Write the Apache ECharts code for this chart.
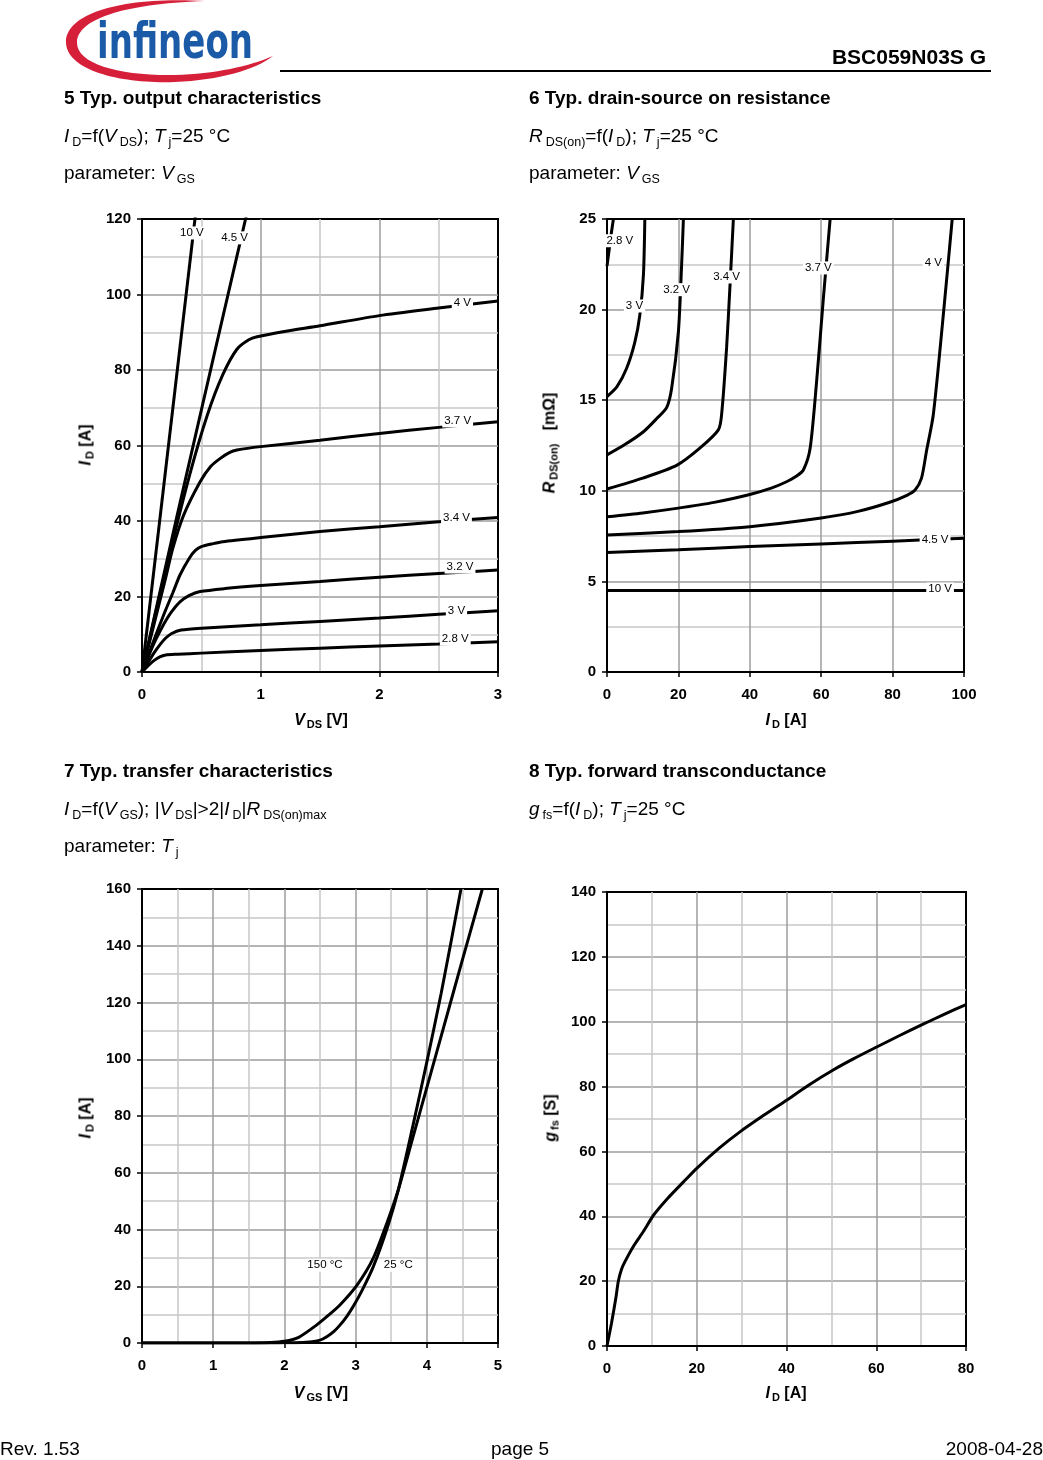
<!DOCTYPE html>
<html><head><meta charset="utf-8">
<script src="https://cdn.jsdelivr.net/npm/echarts@6/dist/echarts.min.js"></script>
<style>
html,body{margin:0;padding:0;background:#fff;}
body{width:1043px;height:1460px;position:relative;overflow:hidden;font-family:'Liberation Sans',Arial,sans-serif;color:#000;}
#chart{position:absolute;left:0;top:0;width:1043px;height:1460px;z-index:1;}
.t{position:absolute;white-space:nowrap;font-size:19px;line-height:22px;z-index:2;}
.b{font-weight:bold;}
.s{font-size:12.5px;position:relative;top:4px;margin-left:3px;}
.ax{position:absolute;white-space:nowrap;font-size:16px;font-weight:bold;line-height:18px;transform:translate(-50%,-50%);z-index:2;}
.ax .s{font-size:11px;top:3px;margin-left:2px;}
.ax.rot{transform:translate(-50%,-50%) rotate(-90deg);}
#logo{position:absolute;left:0;top:0;z-index:2;}
#hline{position:absolute;left:280px;top:70px;width:711px;height:2px;background:#000;z-index:2;}
</style></head>
<body>
<svg id="logo" width="300" height="90" viewBox="0 0 300 90">
  <path d="M205,1 C120,-4 66,14 66,42 C66,70 120,84 175,82 C220,80 255,70 273,56 C250,66 215,74 175,75 C120,76 76,64 77,42 C78,20 120,4 205,1 Z" fill="#d6203a"/>
  <text x="97" y="58" font-family="DejaVu Sans, Liberation Sans, sans-serif" font-weight="bold" font-size="49" fill="#1b5aa6" textLength="156" lengthAdjust="spacingAndGlyphs">infineon</text>
</svg>
<div class="t b" style="right:57px;top:46px;font-size:21px;">BSC059N03S G</div>
<div id="hline"></div>

<div class="t b" style="left:64px;top:87px;">5 Typ. output characteristics</div>
<div class="t" style="left:64px;top:125px;"><i>I</i><span class="s">D</span>=f(<i>V</i><span class="s">DS</span>); <i>T</i><span class="s">j</span>=25 °C</div>
<div class="t" style="left:64px;top:162px;">parameter: <i>V</i><span class="s">GS</span></div>

<div class="t b" style="left:529px;top:87px;">6 Typ. drain-source on resistance</div>
<div class="t" style="left:529px;top:125px;"><i>R</i><span class="s">DS(on)</span>=f(<i>I</i><span class="s">D</span>); <i>T</i><span class="s">j</span>=25 °C</div>
<div class="t" style="left:529px;top:162px;">parameter: <i>V</i><span class="s">GS</span></div>

<div class="t b" style="left:64px;top:760px;">7 Typ. transfer characteristics</div>
<div class="t" style="left:64px;top:798px;"><i>I</i><span class="s">D</span>=f(<i>V</i><span class="s">GS</span>); |<i>V</i><span class="s">DS</span>|&gt;2|<i>I</i><span class="s">D</span>|<i>R</i><span class="s">DS(on)max</span></div>
<div class="t" style="left:64px;top:835px;">parameter: <i>T</i><span class="s">j</span></div>

<div class="t b" style="left:529px;top:760px;">8 Typ. forward transconductance</div>
<div class="t" style="left:529px;top:798px;"><i>g</i><span class="s">fs</span>=f(<i>I</i><span class="s">D</span>); <i>T</i><span class="s">j</span>=25 °C</div>

<div class="ax" style="left:321px;top:720px;"><i>V</i><span class="s">DS</span> [V]</div>
<div class="ax rot" style="left:86px;top:445px;"><i>I</i><span class="s">D</span> [A]</div>
<div class="ax" style="left:786px;top:720px;"><i>I</i><span class="s">D</span> [A]</div>
<div class="ax rot" style="left:550px;top:443px;"><i>R</i><span class="s">DS(on)</span>&nbsp;&nbsp;&nbsp;[mΩ]</div>
<div class="ax" style="left:321px;top:1393px;"><i>V</i><span class="s">GS</span> [V]</div>
<div class="ax rot" style="left:86px;top:1118px;"><i>I</i><span class="s">D</span> [A]</div>
<div class="ax" style="left:786px;top:1393px;"><i>I</i><span class="s">D</span> [A]</div>
<div class="ax rot" style="left:551px;top:1118px;"><i>g</i><span class="s">fs</span> [S]</div>

<div class="t" style="left:0px;top:1438px;">Rev. 1.53</div>
<div class="t" style="left:491px;top:1438px;">page 5</div>
<div class="t" style="right:0px;top:1438px;">2008-04-28</div>

<div id="chart"></div>
<script>
// ---------- Chart 5: output characteristics, I_D vs V_DS, parameter V_GS ----------
const out28 = [[0,0],[0.05,1.6],[0.1,3.0],[0.15,4.0],[0.2,4.5],[0.3,4.7],[0.5,5.0],[1,5.7],[1.5,6.3],[2,6.9],[2.5,7.4],[3,8.0]];
const out30 = [[0,0],[0.05,2.5],[0.1,5.0],[0.15,7.2],[0.2,9.0],[0.25,10.2],[0.33,11.1],[0.5,11.6],[1,12.5],[1.5,13.4],[2,14.3],[2.5,15.3],[3,16.2]];
const out32 = [[0,0],[0.05,3.8],[0.1,7.5],[0.15,10.7],[0.2,13.6],[0.25,16],[0.32,18.6],[0.4,20.3],[0.49,21.3],[0.7,22.1],[1,22.9],[1.5,24],[2,25.1],[2.5,26.1],[3,27.0]];
const out34 = [[0,0],[0.05,4.2],[0.1,8.4],[0.15,12.5],[0.2,16.5],[0.26,21],[0.32,25.7],[0.4,30.2],[0.45,32.2],[0.5,33.2],[0.6,34],[0.68,34.5],[1,35.6],[1.5,37.2],[2,38.5],[2.5,39.8],[3,40.9]];
const out37 = [[0,0],[0.1,12.5],[0.2,25],[0.26,32.8],[0.35,41.5],[0.49,50.4],[0.58,54.5],[0.66,56.6],[0.74,58.2],[0.8,58.8],[1,59.7],[1.5,61.4],[2,63.2],[2.5,64.8],[3,66.3]];
const out40 = [[0,0],[0.2,27],[0.4,52],[0.55,68],[0.68,78.7],[0.8,85.5],[0.9,88],[0.97,88.8],[1.2,90.2],[1.5,91.7],[2,94.4],[2.5,96.4],[3,98.3]];
const out45 = [[0,0],[0.3,42],[0.6,83],[0.88,121]];
const out100 = [[0,0],[0.45,121]];
const lab5 = [[0.42,116.3,'10 V'],[0.78,115,'4.5 V'],[2.7,97.7,'4 V'],[2.66,66.5,'3.7 V'],[2.65,40.8,'3.4 V'],[2.68,27.8,'3.2 V'],[2.65,16.2,'3 V'],[2.64,8.7,'2.8 V']];

// ---------- Chart 6: R_DS(on) vs I_D, parameter V_GS ----------
const r28 = [[0,22.4],[0.6,23.3],[1.2,24.2],[1.8,25.0]];
const r30 = [[0,15.2],[2.8,15.75],[5.5,16.76],[7.8,18.2],[9.2,19.7],[10.2,21.9],[10.6,25]];
const r32 = [[0,11.98],[5,12.55],[10.2,13.26],[14,14.0],[16.7,14.59],[18.1,15.65],[20,18.78],[20.9,22.46],[21.4,25]];
const r34 = [[0,10.1],[10,10.7],[19.5,11.4],[26,12.35],[31.2,13.36],[32.1,14.2],[33.5,17.9],[34.5,21.5],[35.4,25]];
const r37 = [[0,8.57],[10,8.78],[19.5,9.03],[30,9.36],[40,9.8],[46,10.15],[50.3,10.5],[53,10.8],[55,11.15],[56.9,12.35],[58.7,16.0],[60.6,20.6],[62.5,25]];
const r40 = [[0,7.56],[20,7.75],[40,8.02],[60,8.5],[70,8.85],[79.2,9.37],[84,9.75],[86.3,10.04],[88.1,10.7],[89.5,12.2],[91.4,14.2],[94.2,19.7],[96.7,25]];
const r45 = [[0,6.6],[20,6.75],[40,6.92],[60,7.07],[80,7.22],[100,7.38]];
const r100 = [[0,4.5],[20,4.5],[40,4.5],[60,4.5],[80,4.5],[100,4.5]];
const lab6 = [[3.6,23.8,'2.8 V'],[7.7,20.2,'3 V'],[19.5,21.1,'3.2 V'],[33.5,21.8,'3.4 V'],[59.2,22.3,'3.7 V'],[91.4,22.6,'4 V'],[91.9,7.28,'4.5 V'],[93.3,4.58,'10 V']];

// ---------- Chart 7: transfer characteristics, I_D vs V_GS, parameter T_j ----------
const t25 = [[0,0],[1.8,0],[2.0,0.05],[2.3,0.25],[2.5,1.0],[2.6,2.3],[2.7,4.2],[2.78,6.3],[2.88,9.5],[2.97,13],[3.1,19],[3.25,27],[3.45,41],[3.6,54],[3.8,76],[4.0,99],[4.2,123],[4.48,160]];
const t150 = [[0,0],[1.5,0],[1.8,0.15],[2.0,0.6],[2.2,2.0],[2.45,6.3],[2.62,9.8],[2.78,13.4],[3.02,20.4],[3.25,30],[3.45,43],[3.6,54],[3.8,72],[4.0,90],[4.2,108],[4.5,135],[4.78,160]];
const lab7 = [[2.57,27.4,'150 °C'],[3.6,27.4,'25 °C']];

// ---------- Chart 8: forward transconductance, g_fs vs I_D ----------
const gfs = [[0,0],[1,7],[2,15],[2.5,19.8],[3.2,23.5],[4,26],[6,31],[8.1,35.3],[10.4,40.4],[13.5,45.5],[17.1,50.7],[20,54.8],[25,61],[29.7,66.1],[35,71.2],[40,75.8],[45,80.5],[50.4,85.1],[55,88.6],[60.1,92.2],[65,95.6],[70.1,99],[75,102.2],[80,105.3]];

const FONT = "'Liberation Sans', Arial, sans-serif";
const chart = echarts.init(document.getElementById('chart'), null, {renderer:'canvas'});

function axis(gi, min, max, interval, minor, isX) {
  return {
    type:'value', gridIndex:gi, min:min, max:max, interval:interval,
    position: isX ? 'bottom' : 'left',
    axisLine:{show:true, onZero:false, lineStyle:{color:'#000', width:2}},
    axisTick:{show:true, inside:false, length:5, lineStyle:{color:'#000', width:1.5}},
    axisLabel:{color:'#000', fontWeight:'bold', fontSize:15, fontFamily:FONT, margin: isX ? 15 : 11},
    splitLine:{show:true, showMinLine:false, showMaxLine:false, lineStyle:{color:'#9c9c9c', width:1.5}},
    minorTick:{show:false, splitNumber:2},
    minorSplitLine:{show:minor, lineStyle:{color:'#c8c8c8', width:1.5}}
  };
}
function curve(gi, data) {
  return {type:'line', xAxisIndex:gi, yAxisIndex:gi, data:data, showSymbol:false, symbol:'none',
    smooth:0.25, lineStyle:{color:'#000', width:3}, z:3, silent:true, clip:true, animation:false};
}
function tags(gi, data) {
  return {type:'scatter', xAxisIndex:gi, yAxisIndex:gi, data:data, symbolSize:1,
    itemStyle:{color:'#fff', opacity:1}, silent:true, z:5, animation:false,
    label:{show:true, position:'inside', formatter:function(p){return p.data[2];}, opacity:1,
      backgroundColor:'#fff', padding:[1,2,0,2], color:'#000', fontSize:11.5, fontFamily:FONT,
      textBorderWidth:0, textShadowBlur:0}};
}
const gridBase = {show:true, borderColor:'#000', borderWidth:2, backgroundColor:'rgba(0,0,0,0)', containLabel:false};

chart.setOption({
  animation:false,
  grid:[
    Object.assign({left:142, top:219, width:356, height:453}, gridBase),
    Object.assign({left:607, top:219, width:357, height:453}, gridBase),
    Object.assign({left:142, top:889, width:356, height:454}, gridBase),
    Object.assign({left:607, top:892, width:359, height:454}, gridBase)
  ],
  xAxis:[
    axis(0, 0, 3, 1, true, true),
    axis(1, 0, 100, 20, false, true),
    axis(2, 0, 5, 1, true, true),
    axis(3, 0, 80, 20, true, true)
  ],
  yAxis:[
    axis(0, 0, 120, 20, true, false),
    axis(1, 0, 25, 5, true, false),
    axis(2, 0, 160, 20, true, false),
    axis(3, 0, 140, 20, true, false)
  ],
  series:[
    curve(0, out28), curve(0, out30), curve(0, out32), curve(0, out34),
    curve(0, out37), curve(0, out40), curve(0, out45), curve(0, out100),
    tags(0, lab5),
    curve(1, r28), curve(1, r30), curve(1, r32), curve(1, r34),
    curve(1, r37), curve(1, r40), curve(1, r45), curve(1, r100),
    tags(1, lab6),
    curve(2, t25), curve(2, t150),
    tags(2, lab7),
    curve(3, gfs)
  ]
});
</script>
</body></html>
